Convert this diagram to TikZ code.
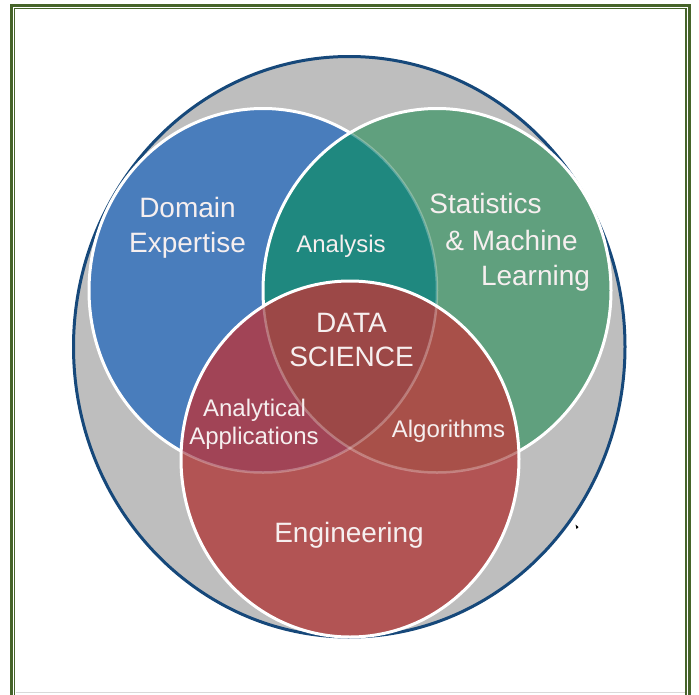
\documentclass[tikz,border=0pt]{standalone}
\usepackage{fontspec}
\setmainfont{Liberation Sans}
\definecolor{framegreen}{RGB}{70,100,42}
\definecolor{navyline}{RGB}{22,72,122}
\definecolor{greyfill}{RGB}{190,190,190}
\definecolor{bluefill}{RGB}{73,125,188}
\definecolor{greenfill}{RGB}{96,160,126}
\definecolor{tealfill}{RGB}{31,136,127}
\definecolor{redfill}{RGB}{178,84,84}
\definecolor{anafill}{RGB}{161,68,86}
\definecolor{algfill}{RGB}{168,80,73}
\definecolor{dsfill}{RGB}{156,72,71}
\definecolor{txt}{RGB}{246,239,239}
\tikzset{
  bigtext/.style={text=txt, font=\fontsize{28}{28}\selectfont, anchor=base, inner sep=0pt},
  smalltext/.style={text=txt, font=\fontsize{24}{24}\selectfont, anchor=base, inner sep=0pt},
  whiteline/.style={draw=white, line width=3pt},
  faintline/.style={draw=white, draw opacity=0.28, line width=2.5pt}
}
\newcommand{\blueC}{(263,290.5) ellipse [x radius=174pt, y radius=182pt]}
\newcommand{\greenC}{(437,290.5) ellipse [x radius=174pt, y radius=182pt]}
\newcommand{\redC}{(350,459) ellipse [x radius=169pt, y radius=178pt]}
\begin{document}
\begin{tikzpicture}[x=1pt,y=-1pt]
\useasboundingbox (0,0) rectangle (699,694);
\fill[white] (0,0) rectangle (699,694);
% frame
\begin{scope}
\clip (0,0) rectangle (699,694);
\draw[framegreen, line width=3pt] (11.5,5.5) rectangle (689,720);
\draw[framegreen, line width=1.2pt] (14.6,8.6) rectangle (686,720);
\end{scope}
\draw[black!15, line width=0.8pt] (15.5,692) -- (685,692);
% outer circle
\fill[greyfill] (349.25,346.75) ellipse [x radius=275.75pt, y radius=290.25pt];
\draw[navyline, line width=3pt] (349.25,346.75) ellipse [x radius=275.75pt, y radius=290.25pt];
% blue circle
\fill[bluefill] \blueC;
\path[whiteline] \blueC;
% green circle
\fill[greenfill] \greenC;
\begin{scope}
\clip \blueC;
\fill[tealfill] \greenC;
\end{scope}
\begin{scope}
\clip \greenC;
\path[faintline] \blueC;
\end{scope}
\path[whiteline] \greenC;
% red circle
\fill[redfill] \redC;
\begin{scope}
\clip \redC;
\begin{scope}
\clip \blueC;
\fill[anafill] \redC;
\end{scope}
\begin{scope}
\clip \greenC;
\fill[algfill] \redC;
\end{scope}
\begin{scope}
\clip \blueC;
\clip \greenC;
\fill[dsfill] \redC;
\end{scope}
\path[faintline] \blueC;
\path[faintline] \greenC;
\end{scope}
\path[whiteline] \redC;
% small mark
\fill[black] (575.5,524.5) -- (578.5,527) -- (576.5,529) -- cycle;
% labels
\node[bigtext] (dom) at (187.5,217) {Domain};
\node[bigtext] (exp) at (187.5,252) {Expertise};
\node[smalltext] (ana) at (341,252) {Analysis};
\node[bigtext] (sta) at (485.5,213) {Statistics};
\node[bigtext] (mac) at (511.5,250) {\& Machine};
\node[bigtext] (lea) at (535.5,285) {Learning};
\node[bigtext] (data) at (351.5,332) {DATA};
\node[bigtext] (sci) at (351.5,366) {SCIENCE};
\node[smalltext] (anl) at (254.5,416) {Analytical};
\node[smalltext] (app) at (254,444) {Applications};
\node[smalltext] (alg) at (448.5,437) {Algorithms};
\node[bigtext] (eng) at (349,542) {Engineering};
\end{tikzpicture}
\end{document}
